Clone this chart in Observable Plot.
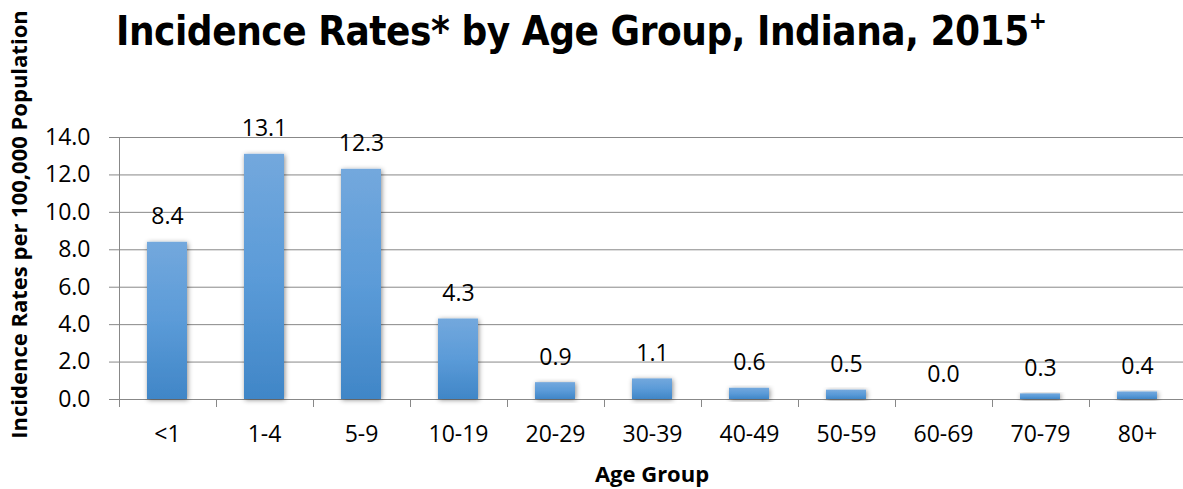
<!DOCTYPE html>
<html>
<head>
<meta charset="utf-8">
<script src="https://cdn.jsdelivr.net/npm/d3@7"></script>
<script src="https://cdn.jsdelivr.net/npm/@observablehq/plot@0.6"></script>
<style>
  body { margin: 0; background: #fff; }
  #wrap { position: relative; width: 1183px; height: 489px; overflow: hidden; }
  #title {
    position: absolute; left: 116px; top: 11px; margin: 0;
    font-family: "Liberation Sans Narrow", "DejaVu Sans Condensed", sans-serif;
    font-weight: bold; font-size: 40px; line-height: 40px; white-space: nowrap; color: #000;
    letter-spacing: -0.45px;
  }
  #title sup { font-size: 24px; vertical-align: 0; position: relative; top: -16px; }
</style>
</head>
<body>
<div id="wrap">
  <div id="chart"></div>
  <div id="title">Incidence Rates* by Age Group, Indiana, 2015<sup>+</sup></div>
</div>
<script>
// ---- data ----
const ageGroups = ["<1", "1-4", "5-9", "10-19", "20-29", "30-39", "40-49", "50-59", "60-69", "70-79", "80+"];
const rates = [8.4, 13.1, 12.3, 4.3, 0.9, 1.1, 0.6, 0.5, 0.0, 0.3, 0.4];
const yTicks = [0, 2, 4, 6, 8, 10, 12, 14];
const yLabel = "Incidence Rates per 100,000 Population";
const xLabel = "Age Group";

const data = ageGroups.map((a, i) => ({age: a, rate: rates[i]}));
const fmt = d3.format(".1f");
const font = "'Open Sans', sans-serif";

// category boundary ticks + vertical axis line, drawn from the scales
function categoryFrame(index, scales) {
  const x = scales.x, y = scales.y;
  const step = x.step(), bw = x.bandwidth();
  const g = d3.create("svg:g").attr("stroke", "#888").attr("stroke-width", 1);
  const bounds = ageGroups.map(a => x(a) + bw / 2 - step / 2);
  bounds.push(x(ageGroups[ageGroups.length - 1]) + bw / 2 + step / 2);
  const y0 = y(0);
  g.selectAll("line.b").data(bounds).join("line")
    .attr("x1", d => Math.round(d) + 0.5).attr("x2", d => Math.round(d) + 0.5)
    .attr("y1", y0).attr("y2", y0 + 8);
  g.append("line")
    .attr("x1", Math.round(bounds[0]) + 0.5).attr("x2", Math.round(bounds[0]) + 0.5)
    .attr("y1", y(yTicks[yTicks.length - 1])).attr("y2", y0);
  return g.node();
}

const plot = Plot.plot({
  width: 1183,
  height: 489,
  marginLeft: 117,
  marginRight: -3,
  marginTop: 137,
  marginBottom: 90,
  style: {fontFamily: font, fontSize: "23px", color: "#000", background: "transparent"},
  x: {domain: ageGroups, paddingInner: 0.59, paddingOuter: 0.295, label: null},
  y: {domain: [0, 14], label: null},
  marks: [
    Plot.gridY(yTicks, {stroke: "#888", strokeOpacity: 1}),
    Plot.ruleY([0], {stroke: "#888", insetLeft: -8}),
    categoryFrame,
    Plot.axisY(yTicks, {tickSize: 8, tickPadding: 19, tickFormat: fmt, stroke: "#888", fill: "#000", fontSize: 23, label: null}),
    Plot.axisX({tickSize: 0, tickPadding: 26, fill: "#000", fontSize: 23, label: null}),
    Plot.barY(data, {x: "age", y: "rate", fill: "url(#barGrad)"}),
    Plot.text(data, {x: "age", y: "rate", text: d => fmt(d.rate), lineAnchor: "bottom", dy: -18, fill: "#000", fontSize: 23}),
    Plot.text([xLabel], {frameAnchor: "bottom", textAnchor: "middle", dy: 75, lineAnchor: "middle", fontWeight: "bold", fontSize: 22, fill: "#000"}),
    Plot.text([yLabel], {frameAnchor: "left", textAnchor: "middle", dx: -98, dy: -44, rotate: -90, lineAnchor: "middle",
      fontWeight: "bold", fontSize: 22, fill: "#000", fontFamily: "'Open Sans', sans-serif"})
  ]
});

// gradient + shadow definitions
const svg = d3.select(plot);
const defs = svg.insert("defs", ":first-child");
const grad = defs.append("linearGradient").attr("id", "barGrad")
  .attr("x1", 0).attr("y1", 0).attr("x2", 0).attr("y2", 1);
grad.append("stop").attr("offset", "0%").attr("stop-color", "#73a8dd");
grad.append("stop").attr("offset", "50%").attr("stop-color", "#5b9bd8");
grad.append("stop").attr("offset", "100%").attr("stop-color", "#4086c7");
const f = defs.append("filter").attr("id", "shadow")
  .attr("x", "-50%").attr("y", "-20%").attr("width", "200%").attr("height", "140%");
f.append("feDropShadow").attr("dx", 1).attr("dy", 1).attr("stdDeviation", 2.5)
  .attr("flood-color", "#000").attr("flood-opacity", 0.45);
svg.selectAll("g[aria-label='bar'] rect").attr("filter", "url(#shadow)");

document.getElementById("chart").appendChild(plot);
plot.style.position = "absolute";
plot.style.left = "0";
plot.style.top = "0";
</script>
</body>
</html>
